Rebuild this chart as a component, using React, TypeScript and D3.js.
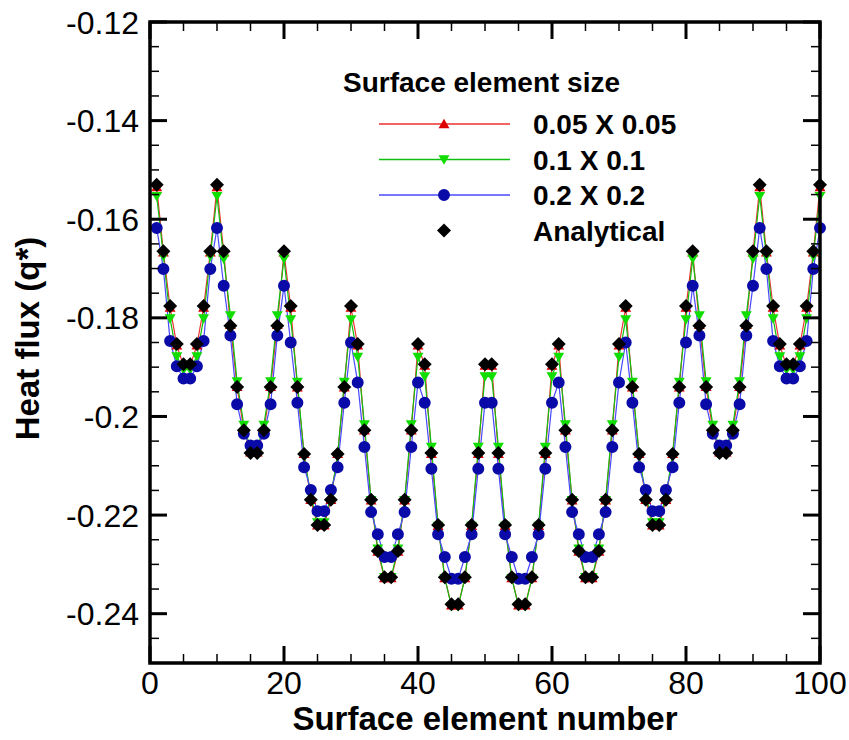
import React from 'react';
import * as d3 from 'd3';

// ---------- data ----------
const elements: number[] = d3.range(1, 101);

const analytical: number[] = [
  -0.1530, -0.1665, -0.1776, -0.1853, -0.1894, -0.1894, -0.1853, -0.1776, -0.1665, -0.1530,
  -0.1665, -0.1816, -0.1940, -0.2028, -0.2074, -0.2074, -0.2028, -0.1940, -0.1816, -0.1665,
  -0.1776, -0.1940, -0.2076, -0.2169, -0.2220, -0.2220, -0.2169, -0.2076, -0.1940, -0.1776,
  -0.1853, -0.2028, -0.2169, -0.2273, -0.2326, -0.2326, -0.2273, -0.2169, -0.2028, -0.1853,
  -0.1894, -0.2074, -0.2220, -0.2326, -0.2381, -0.2381, -0.2326, -0.2220, -0.2074, -0.1894,
  -0.1894, -0.2074, -0.2220, -0.2326, -0.2381, -0.2381, -0.2326, -0.2220, -0.2074, -0.1894,
  -0.1853, -0.2028, -0.2169, -0.2273, -0.2326, -0.2326, -0.2273, -0.2169, -0.2028, -0.1853,
  -0.1776, -0.1940, -0.2076, -0.2169, -0.2220, -0.2220, -0.2169, -0.2076, -0.1940, -0.1776,
  -0.1665, -0.1816, -0.1940, -0.2028, -0.2074, -0.2074, -0.2028, -0.1940, -0.1816, -0.1665,
  -0.1530, -0.1665, -0.1776, -0.1853, -0.1894, -0.1894, -0.1853, -0.1776, -0.1665, -0.1530,
];

const size005: number[] = [
  -0.1535, -0.1667, -0.1779, -0.1856, -0.1897, -0.1897, -0.1856, -0.1779, -0.1667, -0.1535,
  -0.1667, -0.1814, -0.1940, -0.2027, -0.2073, -0.2073, -0.2027, -0.1940, -0.1814, -0.1667,
  -0.1779, -0.1941, -0.2076, -0.2169, -0.2221, -0.2221, -0.2169, -0.2076, -0.1941, -0.1779,
  -0.1856, -0.2028, -0.2170, -0.2274, -0.2328, -0.2328, -0.2274, -0.2170, -0.2028, -0.1856,
  -0.1897, -0.2076, -0.2222, -0.2328, -0.2383, -0.2383, -0.2328, -0.2222, -0.2076, -0.1897,
  -0.1897, -0.2076, -0.2222, -0.2328, -0.2383, -0.2383, -0.2328, -0.2222, -0.2076, -0.1897,
  -0.1856, -0.2028, -0.2170, -0.2274, -0.2328, -0.2328, -0.2274, -0.2170, -0.2028, -0.1856,
  -0.1779, -0.1941, -0.2076, -0.2169, -0.2221, -0.2221, -0.2169, -0.2076, -0.1941, -0.1779,
  -0.1667, -0.1814, -0.1940, -0.2027, -0.2073, -0.2073, -0.2027, -0.1940, -0.1814, -0.1667,
  -0.1535, -0.1667, -0.1779, -0.1856, -0.1897, -0.1897, -0.1856, -0.1779, -0.1667, -0.1535,
];

const size01: number[] = [
  -0.1553, -0.1675, -0.1801, -0.1878, -0.1905, -0.1905, -0.1878, -0.1801, -0.1675, -0.1553,
  -0.1680, -0.1795, -0.1929, -0.2017, -0.2066, -0.2066, -0.2017, -0.1929, -0.1795, -0.1680,
  -0.1803, -0.1930, -0.2080, -0.2160, -0.2215, -0.2215, -0.2160, -0.2080, -0.1930, -0.1803,
  -0.1879, -0.2016, -0.2170, -0.2268, -0.2326, -0.2326, -0.2268, -0.2170, -0.2016, -0.1879,
  -0.1919, -0.2062, -0.2222, -0.2328, -0.2385, -0.2385, -0.2328, -0.2222, -0.2062, -0.1919,
  -0.1919, -0.2062, -0.2222, -0.2328, -0.2385, -0.2385, -0.2328, -0.2222, -0.2062, -0.1919,
  -0.1879, -0.2016, -0.2170, -0.2268, -0.2326, -0.2326, -0.2268, -0.2170, -0.2016, -0.1879,
  -0.1803, -0.1930, -0.2080, -0.2160, -0.2215, -0.2215, -0.2160, -0.2080, -0.1930, -0.1803,
  -0.1680, -0.1795, -0.1929, -0.2017, -0.2066, -0.2066, -0.2017, -0.1929, -0.1795, -0.1680,
  -0.1553, -0.1675, -0.1801, -0.1878, -0.1905, -0.1905, -0.1878, -0.1801, -0.1675, -0.1553,
];

const size02: number[] = [
  -0.1618, -0.1701, -0.1847, -0.1898, -0.1923, -0.1923, -0.1898, -0.1847, -0.1701, -0.1618,
  -0.1735, -0.1836, -0.1975, -0.2035, -0.2059, -0.2059, -0.2035, -0.1975, -0.1836, -0.1735,
  -0.1850, -0.1972, -0.2103, -0.2149, -0.2192, -0.2192, -0.2149, -0.2103, -0.1972, -0.1850,
  -0.1931, -0.2062, -0.2194, -0.2239, -0.2285, -0.2285, -0.2239, -0.2194, -0.2062, -0.1931,
  -0.1972, -0.2106, -0.2239, -0.2285, -0.2329, -0.2329, -0.2285, -0.2239, -0.2106, -0.1972,
  -0.1972, -0.2106, -0.2239, -0.2285, -0.2329, -0.2329, -0.2285, -0.2239, -0.2106, -0.1972,
  -0.1931, -0.2062, -0.2194, -0.2239, -0.2285, -0.2285, -0.2239, -0.2194, -0.2062, -0.1931,
  -0.1850, -0.1972, -0.2103, -0.2149, -0.2192, -0.2192, -0.2149, -0.2103, -0.1972, -0.1850,
  -0.1735, -0.1836, -0.1975, -0.2035, -0.2059, -0.2059, -0.2035, -0.1975, -0.1836, -0.1735,
  -0.1618, -0.1701, -0.1847, -0.1898, -0.1923, -0.1923, -0.1898, -0.1847, -0.1701, -0.1618,
];

const xMajorTicks = [0, 20, 40, 60, 80, 100];
const xMinorTicks = d3.range(0, 101, 5);
const yMajorTicks = [-0.12, -0.14, -0.16, -0.18, -0.2, -0.22, -0.24];
const yTickLabels = ['-0.12', '-0.14', '-0.16', '-0.18', '-0.2', '-0.22', '-0.24'];
const yMinorTicks = d3.range(-0.25, -0.1199, 0.005);

const legendTitle = 'Surface element size';
const seriesNames = ['0.05 X 0.05', '0.1 X 0.1', '0.2 X 0.2', 'Analytical'];
const xTitle = 'Surface element number';
const yTitle = 'Heat flux (q*)';

// ---------- layout ----------
const W = 849;
const H = 740;
const PL = 150, PR = 820, PT = 22, PB = 663;
const FONT = "'Liberation Sans', Arial, Helvetica, sans-serif";

const x = d3.scaleLinear().domain([0, 100]).range([PL, PR]);
const y = d3.scaleLinear().domain([-0.25, -0.12]).range([PB, PT]);

const triUp = d3.symbol().type(d3.symbolTriangle).size(52)() as string;
const circle = d3.symbol().type(d3.symbolCircle).size(113)() as string;
const diamond = 'M0,-7L7,0L0,7L-7,0Z';

type Series = {
  name: string;
  values: number[];
  line: string | null;
  fill: string;
  path: string;
  rotate: number;
  dy: number;
};

const series: Series[] = [
  { name: seriesNames[0], values: size005, line: '#ee3030', fill: '#dd0000', path: triUp, rotate: 0, dy: 1 },
  { name: seriesNames[1], values: size01, line: '#10c010', fill: '#10dd00', path: triUp, rotate: 180, dy: -1 },
  { name: seriesNames[2], values: size02, line: '#4848ff', fill: '#0a0aa8', path: circle, rotate: 0, dy: 0 },
  { name: seriesNames[3], values: analytical, line: null, fill: '#000000', path: diamond, rotate: 0, dy: 0 },
];

const lineGen = d3
  .line<number>()
  .x((_, i) => x(elements[i]))
  .y((v) => y(v));

export default function App() {
  const legendRows = [124, 159.5, 195, 230.5];
  return (
    <div style={{ position: 'absolute', left: 0, top: 0 }}>
      <svg width={W} height={H} viewBox={`0 0 ${W} ${H}`} style={{ display: 'block', background: '#fff' }}>
        <rect x={0} y={0} width={W} height={H} fill="#fff" />

        {/* series lines */}
        {series.map((s) =>
          s.line ? (
            <path key={'l' + s.name} d={lineGen(s.values) || ''} fill="none" stroke={s.line} strokeWidth={1.2} />
          ) : null
        )}
        {/* series markers */}
        {series.map((s) => (
          <g key={'m' + s.name}>
            {s.values.map((v, i) => (
              <path
                key={i}
                d={s.path}
                fill={s.fill}
                transform={`translate(${x(elements[i])},${y(v) + s.dy}) rotate(${s.rotate})`}
              />
            ))}
          </g>
        ))}

        {/* minor ticks */}
        {yMinorTicks.map((t, i) => (
          <g key={'ym' + i} stroke="#000" strokeWidth={1.5}>
            <line x1={PL} x2={PL + 9} y1={y(t)} y2={y(t)} />
            <line x1={PR} x2={PR - 9} y1={y(t)} y2={y(t)} />
          </g>
        ))}
        {xMinorTicks.map((t, i) => (
          <g key={'xm' + i} stroke="#000" strokeWidth={1.5}>
            <line y1={PB} y2={PB - 9} x1={x(t)} x2={x(t)} />
            <line y1={PT} y2={PT + 9} x1={x(t)} x2={x(t)} />
          </g>
        ))}
        {/* major ticks */}
        {yMajorTicks.map((t, i) => (
          <g key={'yM' + i} stroke="#000" strokeWidth={3}>
            <line x1={PL} x2={PL + 17} y1={y(t)} y2={y(t)} />
            <line x1={PR} x2={PR - 17} y1={y(t)} y2={y(t)} />
          </g>
        ))}
        {xMajorTicks.map((t, i) => (
          <g key={'xM' + i} stroke="#000" strokeWidth={3}>
            <line y1={PB} y2={PB - 17} x1={x(t)} x2={x(t)} />
            <line y1={PT} y2={PT + 17} x1={x(t)} x2={x(t)} />
          </g>
        ))}

        {/* frame */}
        <rect x={PL} y={PT} width={PR - PL} height={PB - PT} fill="none" stroke="#000" strokeWidth={3.5} />

        {/* tick labels */}
        {yMajorTicks.map((t, i) => (
          <text key={'yl' + i} x={139} y={y(t) + 11.5} textAnchor="end" fontFamily={FONT} fontSize={32} fill="#000">
            {yTickLabels[i]}
          </text>
        ))}
        {xMajorTicks.map((t, i) => (
          <text key={'xl' + i} x={x(t)} y={694} textAnchor="middle" fontFamily={FONT} fontSize={32} fill="#000">
            {String(t)}
          </text>
        ))}

        {/* axis titles */}
        <text x={(PL + PR) / 2} y={730} textAnchor="middle" fontFamily={FONT} fontSize={33} fontWeight="bold" fill="#000">
          {xTitle}
        </text>
        <text
          transform={`translate(39,${(PT + PB) / 2 - 4}) rotate(-90)`}
          textAnchor="middle"
          fontFamily={FONT}
          fontSize={33}
          fontWeight="bold"
          fill="#000"
        >
          {yTitle}
        </text>

        {/* legend */}
        <text x={343} y={91.5} fontFamily={FONT} fontSize={28} fontWeight="bold" fill="#000">
          {legendTitle}
        </text>
        {series.map((s, i) => (
          <g key={'lg' + i}>
            {s.line ? (
              <line x1={379} x2={510} y1={legendRows[i]} y2={legendRows[i]} stroke={s.line} strokeWidth={1.5} />
            ) : null}
            <path d={s.path} fill={s.fill} transform={`translate(444,${legendRows[i] + s.dy}) rotate(${s.rotate})`} />
            <text x={533} y={legendRows[i] + 10} fontFamily={FONT} fontSize={28} fontWeight="bold" fill="#000">
              {s.name}
            </text>
          </g>
        ))}
      </svg>
    </div>
  );
}
